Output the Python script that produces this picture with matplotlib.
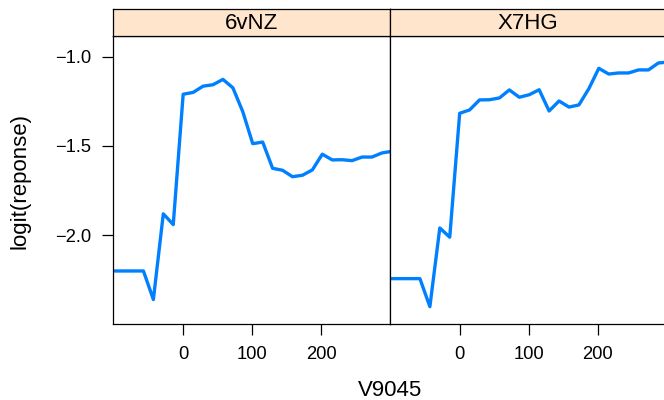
import matplotlib
matplotlib.use("Agg")
import matplotlib.pyplot as plt

# data
panels = ["6vNZ", "X7HG"]
v9045 = [-100.8, -86.4, -72.0, -57.6, -43.2, -28.8, -14.4, 0.0, 14.4, 28.8,
         43.2, 57.6, 72.0, 86.4, 100.8, 115.2, 129.6, 144.0, 158.4, 172.8,
         187.2, 201.6, 216.0, 230.4, 244.8, 259.2, 273.6, 288.0, 302.4]
logit_6vnz = [-2.20, -2.20, -2.20, -2.20, -2.36, -1.88, -1.94, -1.21, -1.20, -1.165,
              -1.157, -1.127, -1.174, -1.308, -1.487, -1.478, -1.625, -1.636, -1.672, -1.664,
              -1.634, -1.546, -1.578, -1.577, -1.582, -1.562, -1.562, -1.539, -1.530]
logit_x7hg = [-2.243, -2.243, -2.243, -2.243, -2.40, -1.959, -2.011, -1.317, -1.298, -1.242,
              -1.241, -1.231, -1.186, -1.227, -1.213, -1.185, -1.304, -1.248, -1.282, -1.270,
              -1.179, -1.065, -1.097, -1.091, -1.091, -1.074, -1.074, -1.035, -1.030]
series = [logit_6vnz, logit_x7hg]

xticks = [0, 100, 200]
yticks = [-1.0, -1.5, -2.0]
ytick_labels = ["\u22121.0", "\u22121.5", "\u22122.0"]

plt.rcParams["font.family"] = ["Liberation Sans", "DejaVu Sans"]

W, H = 664, 400
fig = plt.figure(figsize=(W / 100, H / 100), dpi=100)

left0 = 113 / W
pw = 276.5 / W
bottom = 1 - 324 / H
ph = (324 - 36) / H
sh = 27 / H

for i, (name, vals) in enumerate(zip(panels, series)):
    ax = fig.add_axes([left0 + i * pw, bottom, pw, ph])
    ax.plot(v9045, vals, color="#0080ff", lw=2.4, solid_joinstyle="round")
    ax.set_xlim(-101.7, 299.0)
    ax.set_ylim(-2.497, -0.884)
    ax.set_xticks(xticks)
    ax.set_xticklabels([str(t) for t in xticks])
    ax.tick_params(axis="x", direction="out", length=8, width=0.9, pad=8, labelsize=13.2)
    if i == 0:
        ax.set_yticks(yticks)
        ax.set_yticklabels(ytick_labels)
        ax.tick_params(axis="y", direction="out", length=8, width=0.9, pad=8, labelsize=13.2)
    else:
        ax.set_yticks([])
    for s in ax.spines.values():
        s.set_linewidth(0.9)

    sax = fig.add_axes([left0 + i * pw, bottom + ph, pw, sh])
    sax.set_facecolor("#ffe5cc")
    sax.set_xticks([])
    sax.set_yticks([])
    for s in sax.spines.values():
        s.set_linewidth(0.9)
    sax.text(0.5, 0.45, name, ha="center", va="center", fontsize=16, transform=sax.transAxes)

fig.text(20 / W, 1 - 181 / H, "logit(reponse)", rotation=90, ha="center", va="center", fontsize=16)
fig.text(390 / W, 1 - 390 / H, "V9045", ha="center", va="center", fontsize=16)

fig.savefig("out.png", dpi=100)
